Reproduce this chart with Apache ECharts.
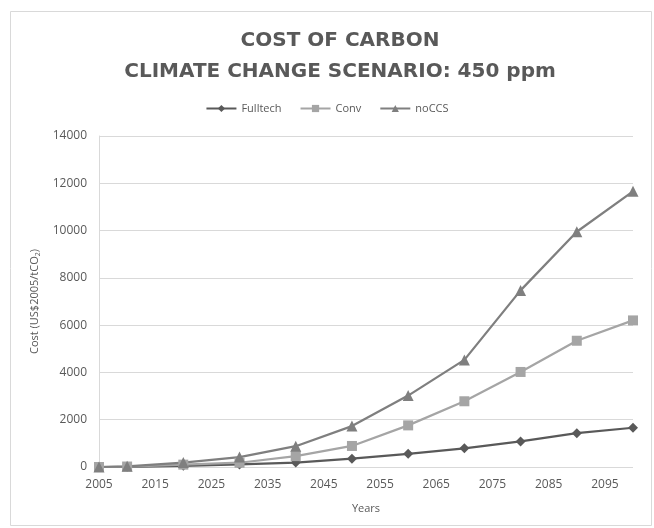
<!DOCTYPE html>
<html>
<head>
<meta charset="utf-8">
<script src="https://cdn.jsdelivr.net/npm/echarts@6/dist/echarts.min.js"></script>
<style>
  html, body { margin: 0; padding: 0; background: #fff; }
  #chart { width: 654px; height: 528px; }
</style>
</head>
<body>
<div id="chart"></div>
<script>
// Years sampled by the scenario model
const years = [2005, 2010, 2020, 2030, 2040, 2050, 2060, 2070, 2080, 2090, 2100];

// Carbon cost per technology scenario (US$2005/tCO2)
const fulltech = [0, 10, 50, 110, 190, 350, 560, 790, 1080, 1430, 1660];
const conv     = [0, 20, 100, 180, 460, 890, 1760, 2780, 4020, 5340, 6200];
const noCCS    = [0, 30, 190, 420, 880, 1730, 3020, 4530, 7470, 9950, 11660];

const seriesNames = ['Fulltech', 'Conv', 'noCCS'];
const titleLines = ['COST OF CARBON', 'CLIMATE CHANGE SCENARIO: 450 ppm'];

const textGray = '#595959';
const font = '"Open Sans", "Noto Sans", sans-serif';
const titleFont = { fontFamily: '"DejaVu Sans", sans-serif', fontWeight: 'bold', fontSize: 20, color: textGray };

function pairs(vals) {
  return years.map((y, i) => [y, vals[i]]);
}

function lineSeries(name, vals, color, symbol, size) {
  return {
    name: name,
    type: 'line',
    data: pairs(vals),
    symbol: symbol,
    symbolSize: size,
    showAllSymbol: true,
    lineStyle: { color: color, width: 2.25 },
    itemStyle: { color: color },
    emphasis: { disabled: true },
    animation: false
  };
}

const chart = echarts.init(document.getElementById('chart'), null, { renderer: 'canvas' });

chart.setOption({
  backgroundColor: '#ffffff',
  animation: false,
  graphic: [{
    type: 'rect',
    shape: { x: 10.5, y: 11.5, width: 641, height: 514 },
    style: { fill: 'none', stroke: '#d9d9d9', lineWidth: 1 },
    silent: true,
    z: -10
  }],
  title: [{
    text: titleLines[0],
    left: 335,
    textAlign: 'center',
    top: 26,
    textStyle: titleFont
  }, {
    text: titleLines[1],
    left: 335,
    textAlign: 'center',
    top: 57,
    textStyle: titleFont
  }],
  legend: {
    data: seriesNames,
    left: 'center',
    top: 98,
    itemWidth: 30,
    itemHeight: 9,
    itemGap: 18,
    textStyle: { fontFamily: font, fontSize: 11, color: textGray }
  },
  grid: { left: 99, right: 21, top: 136, bottom: 61, containLabel: false },
  xAxis: {
    type: 'value',
    min: 2005,
    max: 2100,
    interval: 10,
    name: 'Years',
    nameLocation: 'middle',
    nameGap: 36,
    nameTextStyle: { fontFamily: font, fontSize: 11, color: textGray },
    axisLine: { show: false },
    axisTick: { show: false },
    splitLine: { show: false },
    axisLabel: {
      margin: 12,
      fontFamily: font,
      fontSize: 12,
      color: textGray,
      showMaxLabel: false,
      formatter: v => (v % 10 === 5 ? String(v) : '')
    }
  },
  yAxis: {
    type: 'value',
    min: 0,
    max: 14000,
    interval: 2000,
    name: 'Cost (US$2005/tCO{sub|2})',
    nameLocation: 'middle',
    nameGap: 56,
    nameTextStyle: {
      fontFamily: font, fontSize: 11, color: textGray,
      rich: { sub: { fontFamily: font, fontSize: 7, color: textGray, verticalAlign: 'bottom', padding: [6, 0, 0, 0] } }
    },
    axisLine: { show: true, lineStyle: { color: '#d9d9d9', width: 1 } },
    axisTick: { show: false },
    splitLine: { show: true, lineStyle: { color: '#d9d9d9', width: 1 } },
    axisLabel: { margin: 12, fontFamily: font, fontSize: 12, color: textGray, formatter: v => String(v) }
  },
  series: [
    lineSeries('Fulltech', fulltech, '#595959', 'diamond', 10),
    lineSeries('Conv', conv, '#a5a5a5', 'rect', 10),
    lineSeries('noCCS', noCCS, '#7f7f7f', 'triangle', 11)
  ]
});
</script>
</body>
</html>
